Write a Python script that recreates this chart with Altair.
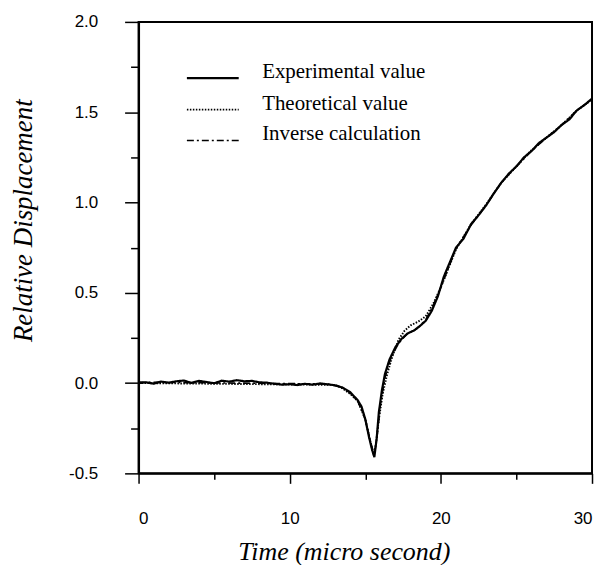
import altair as alt
import pandas as pd

# ---- data ----
exp_t = [0, 0.5, 1, 1.5, 2, 2.5, 3, 3.5, 4, 4.5, 5, 5.5, 6, 6.5, 7, 7.5, 8, 8.5, 9, 9.5,
         10, 10.5, 11, 11.5, 12, 12.5, 13, 13.5, 14, 14.5, 14.75, 15, 15.25, 15.45, 15.6,
         15.75, 15.9, 16.1, 16.3, 16.6, 17.0, 17.4, 17.8, 18.2, 18.6, 19.0, 19.4, 19.8,
         20.2, 20.6, 21.0, 21.5, 22.0, 22.5, 23.0, 23.5, 24.0, 24.5, 25.0, 25.5, 26.0,
         26.5, 27.0, 27.5, 28.0, 28.5, 29.0, 29.5, 30.0]
exp_y = [0.000, 0.004, -0.003, 0.008, 0.002, 0.010, 0.014, 0.001, 0.012, 0.006, -0.001,
         0.013, 0.008, 0.016, 0.010, 0.012, 0.004, 0.002, -0.004, -0.009, -0.006, -0.011,
         -0.004, -0.009, -0.002, -0.007, -0.012, -0.025, -0.05, -0.095, -0.13, -0.20,
         -0.30, -0.37, -0.41, -0.31, -0.16, -0.04, 0.05, 0.13, 0.20, 0.245, 0.275, 0.29,
         0.315, 0.345, 0.40, 0.48, 0.59, 0.67, 0.75, 0.80, 0.88, 0.93, 0.985, 1.05, 1.11,
         1.16, 1.20, 1.25, 1.285, 1.33, 1.36, 1.39, 1.43, 1.46, 1.51, 1.54, 1.575]

theo_t = [0, 13, 13.5, 14, 14.5, 15, 15.3, 15.55, 15.7, 15.9, 16.15, 16.45, 16.8, 17.2,
          17.6, 18.0, 18.5, 19.0, 19.5, 20, 21, 22, 23, 24, 25, 26, 27, 28, 29, 30]
theo_y = [0, -0.01, -0.03, -0.06, -0.10, -0.20, -0.31, -0.40, -0.34, -0.20, -0.06, 0.05,
          0.15, 0.24, 0.29, 0.32, 0.34, 0.37, 0.44, 0.53, 0.74, 0.88, 0.99, 1.11, 1.20,
          1.29, 1.36, 1.43, 1.51, 1.57]

inv_t = [0, 12.5, 13.5, 14, 14.5, 15, 15.3, 15.6, 15.8, 16, 16.3, 16.7, 17.2, 17.8, 18.4,
         19, 19.5, 20, 21, 22, 23, 24, 25, 26, 27, 28, 29, 30]
inv_y = [0.005, -0.005, -0.025, -0.055, -0.10, -0.20, -0.31, -0.40, -0.28, -0.12, 0.03,
         0.14, 0.22, 0.275, 0.30, 0.35, 0.43, 0.53, 0.745, 0.875, 0.985, 1.11, 1.20, 1.285,
         1.36, 1.43, 1.51, 1.57]

series_names = ["Experimental value", "Theoretical value", "Inverse calculation"]
x_major = [0, 10, 20, 30]
x_minor = [5, 15, 25]
y_major = [-0.5, 0.0, 0.5, 1.0, 1.5, 2.0]
y_minor = [-0.25, 0.25, 0.75, 1.25, 1.75]

rows = []
for order, (name, ts, ys) in enumerate(zip(series_names, [exp_t, theo_t, inv_t], [exp_y, theo_y, inv_y])):
    for t, y in zip(ts, ys):
        rows.append({"series": name, "t": t, "y": y, "o": order})
df = pd.DataFrame(rows)

xscale = alt.Scale(domain=[0, 30], nice=False, zero=False)
yscale = alt.Scale(domain=[-0.5, 2.0], nice=False, zero=False)

ylabel_expr = "datum.value < 0 ? '-' + format(abs(datum.value), '.1f') : format(datum.value, '.1f')"

lines = alt.Chart(df).mark_line(color="black", clip=True).encode(
    x=alt.X("t:Q", scale=xscale,
            axis=alt.Axis(values=x_major, orient="bottom", grid=False, tickSize=10,
                          tickWidth=1.5, domainWidth=2, domainColor="black", tickColor="black",
                          labelFont="Liberation Sans", labelFontSize=17, labelColor="black",
                          labelPadding=27, title="Time (micro second)",
                          titleFont="Liberation Serif", titleFontStyle="italic",
                          titleFontWeight="normal", titleFontSize=26, titleColor="black",
                          titleX=206, titleY=78, titleBaseline="middle")),
    y=alt.Y("y:Q", scale=yscale,
            axis=alt.Axis(values=y_major, labelExpr=ylabel_expr, orient="left", grid=False,
                          tickSize=14, tickWidth=1.5, domainWidth=2, domainColor="black",
                          tickColor="black", labelFont="Liberation Sans", labelFontSize=17,
                          labelColor="black", labelPadding=27,
                          title="Relative Displacement", titleFont="Liberation Serif",
                          titleFontStyle="italic", titleFontWeight="normal",
                          titleFontSize=27, titleColor="black", titleAngle=270,
                          titleX=-115, titleY=199, titleBaseline="middle")),
    strokeDash=alt.StrokeDash(
        "series:N",
        scale=alt.Scale(domain=series_names, range=[[1, 0], [1.5, 1.5], [7, 3, 2, 3]]),
        legend=alt.Legend(title=None, orient="none", legendX=47, legendY=29,
                          symbolType="stroke", symbolSize=2704, symbolStrokeWidth=2,
                          symbolStrokeColor="black", labelFont="Liberation Serif",
                          labelFontSize=21, labelColor="black", labelOffset=22,
                          labelLimit=400, rowPadding=0, labelBaseline="alphabetic")),
    strokeWidth=alt.StrokeWidth("series:N",
                                scale=alt.Scale(domain=series_names, range=[2.2, 1.6, 1.8]),
                                legend=None),
    order=alt.Order("o:Q"),
    detail="series:N",
)

minor = alt.Chart(df).mark_point(opacity=0).encode(
    x=alt.X("t:Q", scale=xscale,
            axis=alt.Axis(values=x_minor, orient="bottom", grid=False, labels=False,
                          domain=False, tickSize=6, tickWidth=1.5, tickColor="black",
                          title=None)),
    y=alt.Y("y:Q", scale=yscale,
            axis=alt.Axis(values=y_minor, orient="left", grid=False, labels=False,
                          domain=False, tickSize=8, tickWidth=1.5, tickColor="black",
                          title=None)),
)

chart = alt.layer(lines, minor).resolve_axis(x="independent", y="independent").properties(
    width=455, height=453,
    padding={"left": 2, "top": 4, "right": 0, "bottom": 0},
).configure_view(stroke="black", strokeWidth=2)

chart.save("out.html", embed_options={"renderer": "svg", "actions": False})
